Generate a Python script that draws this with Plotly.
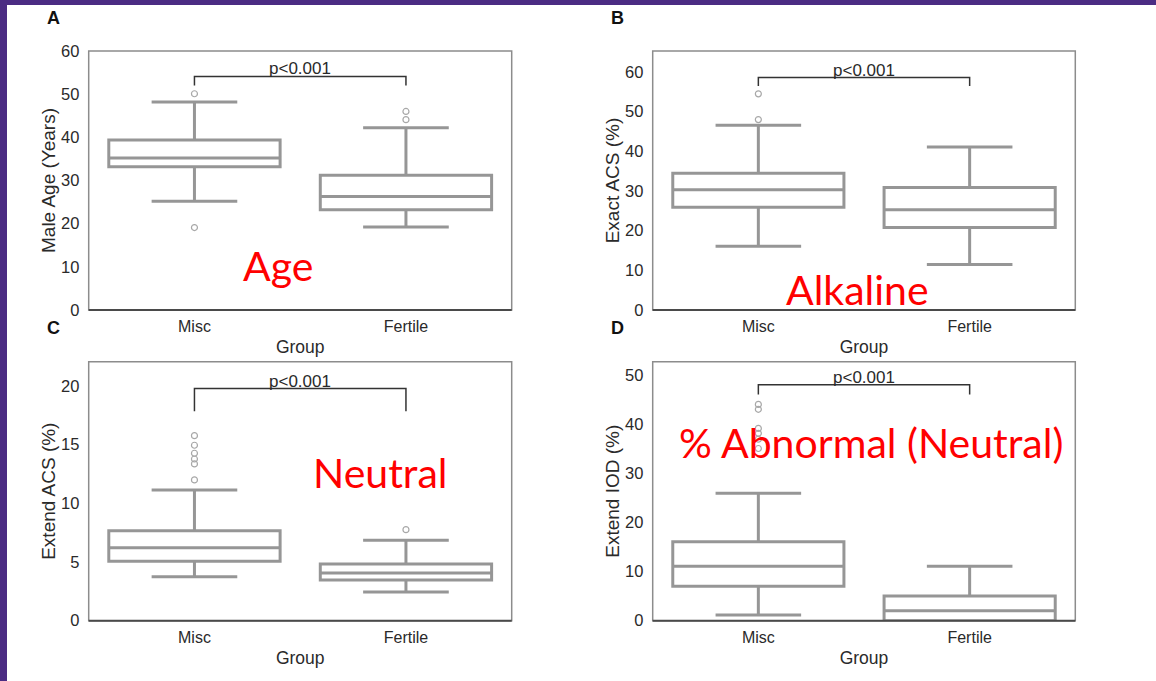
import plotly.graph_objects as go

W, H = 1156, 681

groups = ["Misc", "Fertile"]

# Panel A: Male Age (Years)
a_q1 = [33.2, 23.2]
a_med = [35.2, 26.3]
a_q3 = [39.4, 31.2]
a_lo = [25.2, 19.2]
a_hi = [48.2, 42.2]
a_out_misc = [50.1, 19.1]
a_out_fert = [46.0, 44.1]

# Panel B: Exact ACS (%)
b_q1 = [25.9, 20.8]
b_med = [30.3, 25.3]
b_q3 = [34.5, 30.9]
b_lo = [16.1, 11.5]
b_hi = [46.6, 41.1]
b_out_misc = [54.5, 48.0]
b_out_fert = []

# Panel C: Extend ACS (%)
c_q1 = [5.06, 3.47]
c_med = [6.22, 4.07]
c_q3 = [7.67, 4.83]
c_lo = [3.75, 2.45]
c_hi = [11.14, 6.85]
c_out_misc = [15.77, 14.95, 14.27, 13.78, 13.36, 12.0]
c_out_fert = [7.76]

# Panel D: Extend IOD (%)
d_q1 = [7.0, 0.0]
d_med = [11.08, 2.04]
d_q3 = [16.1, 5.03]
d_lo = [1.16, 0.0]
d_hi = [25.96, 11.08]
d_out_misc = [44.1, 43.1, 39.2, 38.2, 37.0, 35.1]
d_out_fert = []

# bracket heights (top, leg end)
a_br = [54.1, 52.0]
b_br = [58.6, 56.5]
c_br = [19.78, 17.85]
d_br = [48.1, 46.1]

y_titles = ["Male Age (Years)", "Exact ACS (%)", "Extend ACS (%)", "Extend IOD (%)"]
y_ranges = [[0, 60], [0, 65.3], [0, 22.07], [0, 52.8]]
y_dticks = [10, 10, 5, 10]
panel_letters = ["A", "B", "C", "D"]
overlay_texts = ["Age", "Alkaline", "Neutral", "% Abnormal (Neutral)"]

panels = [
    (a_q1, a_med, a_q3, a_lo, a_hi, a_out_misc, a_out_fert, a_br),
    (b_q1, b_med, b_q3, b_lo, b_hi, b_out_misc, b_out_fert, b_br),
    (c_q1, c_med, c_q3, c_lo, c_hi, c_out_misc, c_out_fert, c_br),
    (d_q1, d_med, d_q3, d_lo, d_hi, d_out_misc, d_out_fert, d_br),
]

# pixel layout of plot areas (left, right, top, bottom)
px_boxes = [
    (88.7, 511.7, 51, 310),
    (652.7, 1075.3, 51, 310),
    (88.7, 511.7, 361.7, 620.7),
    (652.7, 1075.3, 361.7, 620.7),
]

BOX_COL = "#969696"
OUT_COL = "#a8a8a8"
TXT_COL = "#2a2a2a"
FONT = "Liberation Sans, Arial, sans-serif"

fig = go.Figure()
layout = {}
annotations = []
shapes = []

for i, (q1, med, q3, lo, hi, om, of, br) in enumerate(panels):
    n = "" if i == 0 else str(i + 1)
    xa, ya = "x" + n, "y" + n
    l, r, t, b = px_boxes[i]
    layout["xaxis" + n] = dict(
        domain=[l / W, r / W], anchor=ya, type="category",
        categoryorder="array", categoryarray=groups, automargin=False,
        range=[-0.5, 1.5], showgrid=False, zeroline=False,
        showline=False, ticks="outside", ticklen=2, tickcolor="rgba(0,0,0,0)",
        tickfont=dict(family=FONT, size=16, color=TXT_COL),
        title=dict(text="Group", font=dict(family=FONT, size=17.5, color=TXT_COL), standoff=6),
        fixedrange=True,
    )
    layout["yaxis" + n] = dict(
        domain=[1 - b / H, 1 - t / H], anchor=xa, range=y_ranges[i], automargin=False,
        dtick=y_dticks[i], tick0=0, showgrid=False, zeroline=False,
        showline=False, ticks="outside", ticklen=5, tickcolor="rgba(0,0,0,0)",
        tickfont=dict(family=FONT, size=16.5, color=TXT_COL),
        title=dict(text=y_titles[i], font=dict(family=FONT, size=19, color=TXT_COL), standoff=0),
        fixedrange=True,
    )
    # frame
    shapes.append(dict(type="rect", xref=xa + " domain", yref=ya + " domain",
                       x0=0, x1=1, y0=0, y1=1, line=dict(color="#8c8c8c", width=1.5),
                       layer="above"))
    shapes.append(dict(type="line", xref=xa + " domain", yref=ya + " domain",
                       x0=0, x1=1, y0=0, y1=0, line=dict(color="#4a4a4a", width=2),
                       layer="above"))
    fig.add_trace(go.Box(
        x=groups, q1=q1, median=med, q3=q3, lowerfence=lo, upperfence=hi,
        xaxis=xa, yaxis=ya, boxpoints=False, width=0.81, whiskerwidth=0.5,
        fillcolor="white", line=dict(color=BOX_COL, width=3),
        showlegend=False, hoverinfo="skip",
    ))
    ox = ["Misc"] * len(om) + ["Fertile"] * len(of)
    oy = list(om) + list(of)
    if oy:
        fig.add_trace(go.Scatter(
            x=ox, y=oy, mode="markers", xaxis=xa, yaxis=ya,
            marker=dict(symbol="circle-open", size=6, color=OUT_COL, line=dict(width=1.2)),
            showlegend=False, hoverinfo="skip",
        ))
    # significance bracket
    fig.add_trace(go.Scatter(
        x=["Misc", "Misc", "Fertile", "Fertile"], y=[br[1], br[0], br[0], br[1]],
        mode="lines", xaxis=xa, yaxis=ya, line=dict(color="#333333", width=1.5),
        showlegend=False, hoverinfo="skip",
    ))
    annotations.append(dict(
        x=0.5, y=br[0], xref=xa, yref=ya, text="p<0.001", showarrow=False,
        yanchor="bottom", xanchor="center", yshift=-4,
        font=dict(family=FONT, size=17, color=TXT_COL),
    ))

# panel letters
letter_pos = [(53, 18), (617, 18), (53, 328), (617, 328)]
for (lx, ly), s in zip(letter_pos, panel_letters):
    annotations.append(dict(x=lx / W, y=1 - ly / H, xref="paper", yref="paper",
                            text="<b>" + s + "</b>", showarrow=False,
                            xanchor="center", yanchor="middle",
                            font=dict(family=FONT, size=18, color="#111111")))

# red overlay labels
overlay_pos = [(278, 265), (857, 289), (380, 473), (871, 443)]
for (ox_, oy_), s in zip(overlay_pos, overlay_texts):
    annotations.append(dict(x=ox_ / W, y=1 - oy_ / H, xref="paper", yref="paper",
                            text=s, showarrow=False, xanchor="center", yanchor="middle",
                            font=dict(family="Lato, Carlito, Calibri, sans-serif", size=41, color="#ff0000")))

# purple frame
shapes.append(dict(type="rect", xref="paper", yref="paper", x0=0, x1=7 / W, y0=0, y1=1,
                   fillcolor="#4b2c83", line=dict(width=0), layer="below"))
shapes.append(dict(type="rect", xref="paper", yref="paper", x0=0, x1=1, y0=1 - 5 / H, y1=1,
                   fillcolor="#4b2c83", line=dict(width=0), layer="below"))

fig.update_layout(
    template="none",
    width=W, height=H, margin=dict(l=0, r=0, t=0, b=0, pad=0, autoexpand=False),
    paper_bgcolor="white", plot_bgcolor="white",
    annotations=annotations, shapes=shapes, showlegend=False,
    **layout,
)

fig.write_html("out.html", config={"displayModeBar": False})
